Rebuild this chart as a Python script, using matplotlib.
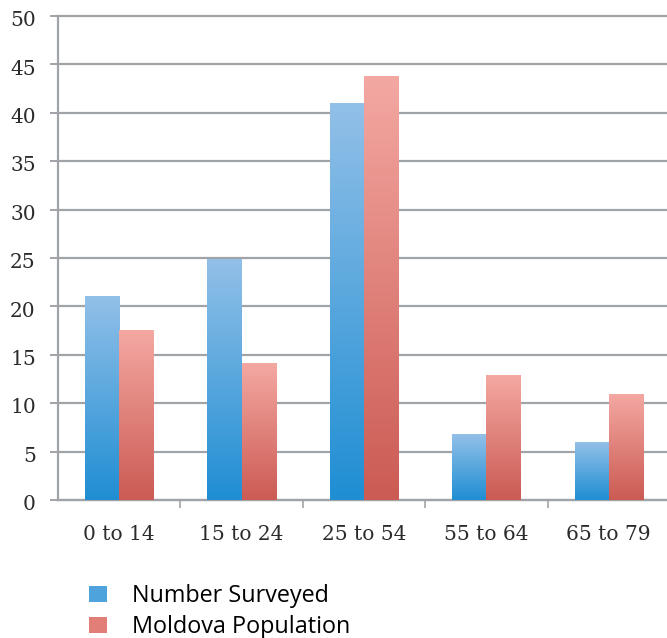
import matplotlib
matplotlib.use("Agg")
import matplotlib.pyplot as plt
from matplotlib.colors import LinearSegmentedColormap
from matplotlib.patches import Patch
from matplotlib.transforms import ScaledTranslation
import numpy as np


AGE_GROUPS = ["0 to 14", "15 to 24", "25 to 54", "55 to 64", "65 to 79"]
NUMBER_SURVEYED = [21.0, 24.8, 41.0, 6.8, 5.9]
MOLDOVA_POPULATION = [17.5, 14.1, 43.8, 12.9, 10.9]
SERIES_NAMES = ["Number Surveyed", "Moldova Population"]

# (top, bottom) colours of the vertical gradient on each bar
BLUE = ("#92c0e8", "#1f8ed3")
RED = ("#f4a8a2", "#cb5b53")
GRID = "#a0a4a9"
BAR_W = 0.28


def gradient_bars(ax, bars, colors):
    cmap = LinearSegmentedColormap.from_list("g", [colors[1], colors[0]])
    grad = np.linspace(0, 1, 256).reshape(-1, 1)
    for rect in bars:
        x0 = rect.get_x()
        h = rect.get_height()
        ax.imshow(grad, cmap=cmap, origin="lower", aspect="auto",
                  extent=[x0, x0 + rect.get_width(), 0, h], zorder=3)
        rect.set_visible(False)


fig = plt.figure(figsize=(6.67, 6.38), dpi=100)
ax = fig.add_axes([58 / 667, 1 - 500 / 638, 612 / 667, 484 / 638])

x = np.arange(len(AGE_GROUPS))
b1 = ax.bar(x - BAR_W / 2, NUMBER_SURVEYED, BAR_W, color=BLUE[1])
b2 = ax.bar(x + BAR_W / 2, MOLDOVA_POPULATION, BAR_W, color=RED[1])
gradient_bars(ax, b1, BLUE)
gradient_bars(ax, b2, RED)

ax.set_xlim(-0.5, len(AGE_GROUPS) - 0.5)
ax.set_ylim(0, 50)
ax.set_yticks(np.arange(0, 51, 5))
ax.yaxis.grid(True, color=GRID, lw=1.6, zorder=0)
ax.set_axisbelow(True)
for gl in ax.get_ygridlines():
    gl.set_clip_on(False)

ax.set_xticks(x)
ax.set_xticklabels(AGE_GROUPS)
ax.set_xticks(np.arange(0.5, len(AGE_GROUPS) - 0.5, 1), minor=True)
ax.tick_params(axis="x", which="major", length=0, pad=18)
ax.tick_params(axis="x", which="minor", length=6, width=1.2, color=GRID, direction="out")
ax.tick_params(axis="y", length=6, width=1.4, color=GRID, pad=10)

for lbl in ax.get_xticklabels() + ax.get_yticklabels():
    lbl.set_fontfamily("DejaVu Serif")
    lbl.set_fontsize(14.5)
    lbl.set_color("#2b2b2b")
# y labels sit a touch below their gridlines
nudge = ScaledTranslation(0, -2 / 72, fig.dpi_scale_trans)
for lbl in ax.get_yticklabels():
    lbl.set_transform(lbl.get_transform() + nudge)

for side in ("top", "right"):
    ax.spines[side].set_visible(False)
for side in ("left", "bottom"):
    ax.spines[side].set_color(GRID)
    ax.spines[side].set_linewidth(1.6)

handles = [Patch(facecolor="#4ea3dc", label=SERIES_NAMES[0]),
           Patch(facecolor="#e07e77", label=SERIES_NAMES[1])]
fig.legend(handles=handles, loc="upper left", bbox_to_anchor=(80 / 667, 1 - 575 / 638),
           frameon=False, handlelength=0.75, handleheight=0.7, handletextpad=1.1,
           labelspacing=0.3, borderaxespad=0, prop={"family": "Open Sans", "size": 16.8})

fig.savefig("out.png", dpi=100)
